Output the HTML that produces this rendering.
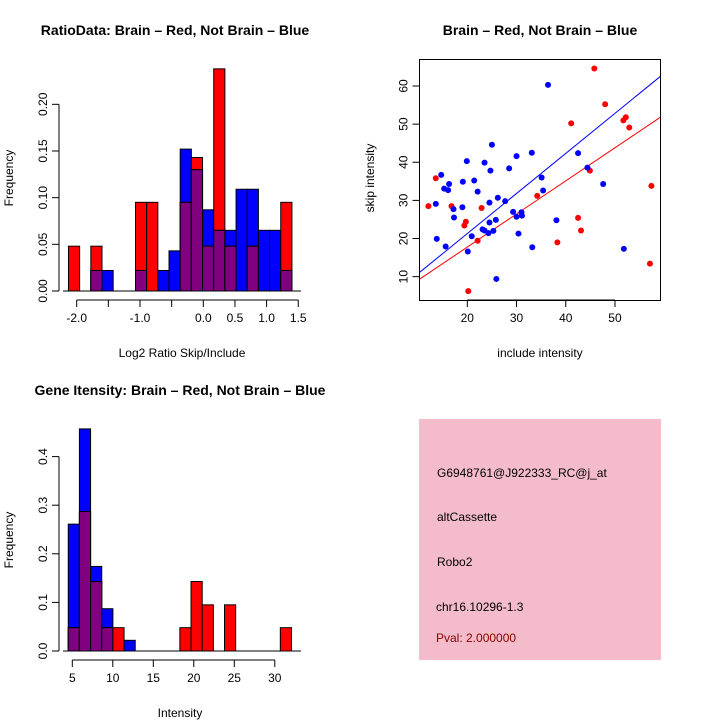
<!DOCTYPE html>
<html><head><meta charset="utf-8"><style>
body{margin:0;background:#fff}
svg{display:block;font-family:"Liberation Sans",sans-serif}
</style></head><body>
<svg id="c" width="720" height="720" viewBox="0 0 720 720">
<text x="175" y="35" font-size="14" font-weight="bold" text-anchor="middle">RatioData: Brain – Red, Not Brain – Blue</text>
<text x="540" y="35" font-size="14" font-weight="bold" text-anchor="middle">Brain – Red, Not Brain – Blue</text>
<text x="180" y="395" font-size="14" font-weight="bold" text-anchor="middle">Gene Itensity: Brain – Red, Not Brain – Blue</text>
<text x="182" y="357" font-size="12" text-anchor="middle">Log2 Ratio Skip/Include</text>
<text x="540" y="357" font-size="12" text-anchor="middle">include intensity</text>
<text x="180" y="717" font-size="12" text-anchor="middle">Intensity</text>
<text transform="translate(13,178) rotate(-90)" font-size="12" text-anchor="middle">Frequency</text>
<text transform="translate(374,178) rotate(-90)" font-size="12" text-anchor="middle">skip intensity</text>
<text transform="translate(13,540) rotate(-90)" font-size="12" text-anchor="middle">Frequency</text>
<g>
<rect x="419" y="419" width="242" height="241" fill="#f4bccb"/>
<text x="437" y="477" font-size="12">G6948761@J922333_RC@j_at</text>
<text x="437" y="521" font-size="12">altCassette</text>
<text x="437" y="566" font-size="12">Robo2</text>
<text x="436" y="611" font-size="12">chr16.10296-1.3</text>
<text x="436" y="642" font-size="12" fill="#8b0000">Pval: 2.000000</text>
</g>
</svg>
<script>
// Ratio histogram data
const ratioStart = -2.13, ratioWidth = 0.1765;
const ratioRed  = [0.048,0,0.048,0,0,0,0.095,0.095,0,0,0.095,0.143,0.048,0.238,0.048,0,0.048,0,0,0.095];
const ratioBlue = [0,0,0.022,0.022,0,0,0.022,0,0.022,0.043,0.152,0.130,0.087,0.065,0.065,0.109,0.109,0.065,0.065,0.022];
const ratioXTicks = [-2.0,-1.5,-1.0,-0.5,0.0,0.5,1.0,1.5];
const ratioXLabels = ["-2.0","","-1.0","","0.0","0.5","1.0","1.5"];
const ratioYTicks = [0,0.05,0.10,0.15,0.20];
const ratioYLabels = ["0.00","0.05","0.10","0.15","0.20"];
// Intensity histogram data
const intStart = 4.5, intWidth = 1.378;
const intRed  = [0.048,0.287,0.143,0.048,0.048,0,0,0,0,0,0.048,0.143,0.095,0,0.095,0,0,0,0,0.048];
const intBlue = [0.261,0.457,0.174,0.087,0,0.022,0,0,0,0,0,0,0,0,0,0,0,0,0,0];
const intXTicks = [5,10,15,20,25,30];
const intYTicks = [0,0.1,0.2,0.3,0.4];
const intYLabels = ["0.0","0.1","0.2","0.3","0.4"];
// Scatter data
const redX = [12.1,13.6,16.8,19.4,19.7,20.2,22.1,22.9,34.2,38.3,41.1,42.5,43.1,44.9,45.8,48.0,51.7,52.2,52.9,57.1,57.4];
const redY = [28.5,35.8,28.5,23.4,24.4,6.2,19.4,28.0,31.2,19.0,50.2,25.4,22.1,37.8,64.6,55.2,51.0,51.8,49.1,13.4,33.8];
const blueX = [13.6,13.8,14.7,15.3,15.6,16.1,16.3,17.2,17.3,19.0,19.1,19.9,20.1,20.9,21.4,22.1,23.1,23.5,23.5,24.3,24.5,24.5,24.7,25.0,25.3,25.8,25.9,26.2,27.7,28.5,29.3,30.0,30.0,30.4,31.0,31.1,33.1,33.2,35.1,35.4,36.4,38.1,42.5,44.4,47.6,51.8];
const blueY = [29.1,19.9,36.7,33.1,17.9,32.7,34.3,27.7,25.5,28.2,34.9,40.3,16.6,20.6,35.2,32.3,22.4,22.1,39.9,21.4,24.2,29.4,37.8,44.6,22.0,24.9,9.4,30.7,29.8,38.4,27.0,25.7,41.6,21.3,26.9,26.0,42.5,17.7,36.0,32.6,60.3,24.8,42.4,38.6,34.3,17.3];
const blueFit = [0.28,1.051];
const redFit = [0.4,0.868];
const scXTicks = [20,30,40,50];
const scYTicks = [10,20,30,40,50,60];

const svg = document.getElementById('c');
const NS = 'http://www.w3.org/2000/svg';
function mk(tag, at, parent){const e=document.createElementNS(NS,tag);for(const k in at)e.setAttribute(k,at[k]);(parent||svg).appendChild(e);return e;}

// ratio axes
const rx = v => 76.7 + (v + 2.0) * 63.3;
const ry = v => 291 - v * 933.4;
// intensity axes
const ix = v => 72.3 + (v - 5) * 8.1;
const iy = v => 651 - v * 486;
// scatter axes
const sx = v => 467.3 + (v - 20) * 4.923;
const sy = v => 86 - (v - 60) * 3.813;

function hist(red, blue, start, width, X, Y, nm){
  const g = mk('g', {});
  
  
  for(let i=0;i<red.length;i++){
    const x0 = X(start + i*width), x1 = X(start + (i+1)*width);
    const r = red[i], b = blue[i], m = Math.min(r,b);
    const layers = [];
    if(r >= b){ if(r>0) layers.push([r,'#ff0000','red']); if(b>0) layers.push([b,'#0000ff','blue']); }
    else { if(b>0) layers.push([b,'#0000ff','blue']); if(r>0) layers.push([r,'#ff0000','red']); }
    for(const L of layers){
      const e = mk('rect',{x:x0,y:Y(L[0]),width:x1-x0,height:Y(0)-Y(L[0]),fill:L[1],stroke:'#000','stroke-width':1},g);
      
      
    }
    if(m>0){
      const e = mk('rect',{x:x0,y:Y(m),width:x1-x0,height:Y(0)-Y(m),fill:'#800080',stroke:'#000','stroke-width':1},g);
      
      
    }
  }
}
function xAxis(ticks, labels, X, y, nm){
  const g = mk('g', {stroke:'#000','stroke-width':1});
  
  
  mk('line',{x1:X(ticks[0]),x2:X(ticks[ticks.length-1]),y1:y,y2:y},g);
  ticks.forEach((t,i)=>{
    mk('line',{x1:X(t),x2:X(t),y1:y,y2:y+7},g);
    if(labels[i]){
      const e = mk('text',{x:X(t),y:y+22,'font-size':12,'text-anchor':'middle',stroke:'none'},g);
      
      
      e.textContent = labels[i];
    }
  });
}
function yAxis(ticks, labels, Y, x, nm){
  const g = mk('g', {stroke:'#000','stroke-width':1});
  
  
  mk('line',{x1:x,x2:x,y1:Y(ticks[0]),y2:Y(ticks[ticks.length-1])},g);
  ticks.forEach((t,i)=>{
    mk('line',{x1:x,x2:x-7,y1:Y(t),y2:Y(t)},g);
    const e = mk('text',{transform:`translate(${x-12},${Y(t)}) rotate(-90)`,'font-size':12,'text-anchor':'middle',stroke:'none'},g);
    
    
    e.textContent = labels[i];
  });
}

hist(ratioRed, ratioBlue, ratioStart, ratioWidth, rx, ry, 'ratio');
mk('line',{x1:63,x2:301,y1:ry(0),y2:ry(0),stroke:'#000'});
xAxis(ratioXTicks, ratioXLabels, rx, 300, 'ratio');
yAxis(ratioYTicks, ratioYLabels, ry, 59, 'ratio');

hist(intRed, intBlue, intStart, intWidth, ix, iy, 'intensity');
mk('line',{x1:63,x2:301,y1:iy(0),y2:iy(0),stroke:'#000'});
xAxis(intXTicks, intXTicks.map(String), ix, 660, 'intensity');
yAxis(intYTicks, intYLabels, iy, 59, 'intensity');

// scatter
const box = mk('rect',{x:419.5,y:59.5,width:241,height:241,fill:'none',stroke:'#000'});


const clip = mk('clipPath',{id:'sc'}); mk('rect',{x:420,y:60,width:240,height:240},clip);
const lg = mk('g',{'clip-path':'url(#sc)'});


[[blueFit,'#0000ff','blue'],[redFit,'#ff0000','red']].forEach(([f,c,n])=>{
  const e = mk('line',{x1:sx(5),y1:sy(f[0]+f[1]*5),x2:sx(65),y2:sy(f[0]+f[1]*65),stroke:c,'stroke-width':1},lg);
  
  
});
const pg = mk('g',{});


redX.forEach((v,i)=>{
  const e = mk('circle',{cx:sx(v),cy:sy(redY[i]),r:3,fill:'#ff0000'},pg);
  
  
});
blueX.forEach((v,i)=>{
  const e = mk('circle',{cx:sx(v),cy:sy(blueY[i]),r:3,fill:'#0000ff'},pg);
  
  
});
xAxis(scXTicks, scXTicks.map(String), sx, 300, 'scatter');
yAxis(scYTicks, scYTicks.map(String), sy, 419.5, 'scatter');
</script>
</body></html>
